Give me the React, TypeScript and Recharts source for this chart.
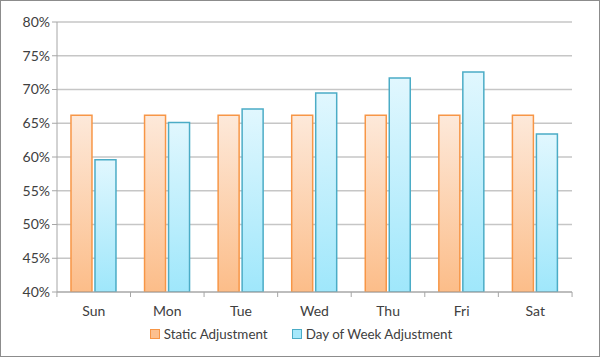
import { BarChart, Bar, XAxis, YAxis, CartesianGrid } from "recharts";

const days = ["Sun", "Mon", "Tue", "Wed", "Thu", "Fri", "Sat"];
const staticAdj = [66.2, 66.2, 66.2, 66.2, 66.2, 66.2, 66.2];
const dowAdj = [59.6, 65.1, 67.1, 69.5, 71.7, 72.6, 63.4];
const yTicks = [40, 45, 50, 55, 60, 65, 70, 75, 80];

const data = days.map((d, i) => ({ day: d, staticAdj: staticAdj[i], dowAdj: dowAdj[i] }));

const FONT = "Lato, 'Open Sans', sans-serif";
const TEXT = "#404040";
const AXIS = "#a6a6a6";
const PLOT_W = 516;
const BAND = PLOT_W / days.length;

function DayTick(props: any) {
  const { x, y, payload, index } = props;
  const last = index === days.length - 1;
  return (
    <g>
      <line x1={x - BAND / 2} x2={x - BAND / 2} y1={y - 8} y2={y - 3} stroke={AXIS} />
      {last && <line x1={x + BAND / 2} x2={x + BAND / 2} y1={y - 8} y2={y - 3} stroke={AXIS} />}
      <text x={x} y={y + 16} textAnchor="middle" fill={TEXT} fontSize={14} fontFamily={FONT}>
        {payload.value}
      </text>
    </g>
  );
}

function LegendBox() {
  const items = [
    { label: "Static Adjustment", fill: "#fcc08f", stroke: "#f79646" },
    { label: "Day of Week Adjustment", fill: "#a5e8fb", stroke: "#4bacc6" },
  ];
  return (
    <div style={{ position: "absolute", left: 0, top: 325, width: 600, display: "flex", justifyContent: "center", gap: 24, fontFamily: FONT, fontSize: 13.4, color: TEXT }}>
      {items.map((it) => (
        <div key={it.label} style={{ display: "flex", alignItems: "center", gap: 4 }}>
          <span style={{ width: 8, height: 8, background: it.fill, border: `1px solid ${it.stroke}`, display: "inline-block" }} />
          <span>{it.label}</span>
        </div>
      ))}
    </div>
  );
}

export default function App() {
  return (
    <div style={{ position: "absolute", left: 0, top: 0, width: 600, height: 357, background: "#fff", boxSizing: "border-box", border: "1px solid #8c8c8c" }}>
      <BarChart
        width={598}
        height={355}
        data={data}
        margin={{ top: 21, right: 27, left: 0, bottom: 34 }}
        barCategoryGap="19%"
        barGap={3}
      >
        <defs>
          <linearGradient id="gOrange" x1="0" y1="0" x2="0" y2="1">
            <stop offset="0%" stopColor="#fde9da" />
            <stop offset="100%" stopColor="#fcbd89" />
          </linearGradient>
          <linearGradient id="gBlue" x1="0" y1="0" x2="0" y2="1">
            <stop offset="0%" stopColor="#e1f7fe" />
            <stop offset="100%" stopColor="#9fe7fb" />
          </linearGradient>
        </defs>
        <CartesianGrid vertical={false} stroke="#c6c6c6" strokeWidth={1.5} />
        <XAxis
          dataKey="day"
          axisLine={{ stroke: AXIS }}
          tickLine={false}
          tick={<DayTick />}
          height={30}
          interval={0}
        />
        <YAxis
          domain={[40, 80]}
          ticks={yTicks}
          width={56}
          axisLine={{ stroke: AXIS }}
          tickLine={{ stroke: AXIS }}
          tickSize={5}
          tickFormatter={(v: number) => `${v}%`}
          tick={{ fill: TEXT, fontSize: 14, fontFamily: FONT }}
          allowDataOverflow
        />
        <Bar dataKey="staticAdj" name="Static Adjustment" fill="url(#gOrange)" stroke="#f79646" strokeWidth={1.5} isAnimationActive={false} />
        <Bar dataKey="dowAdj" name="Day of Week Adjustment" fill="url(#gBlue)" stroke="#4bacc6" strokeWidth={1.5} isAnimationActive={false} />
      </BarChart>
      <LegendBox />
    </div>
  );
}
